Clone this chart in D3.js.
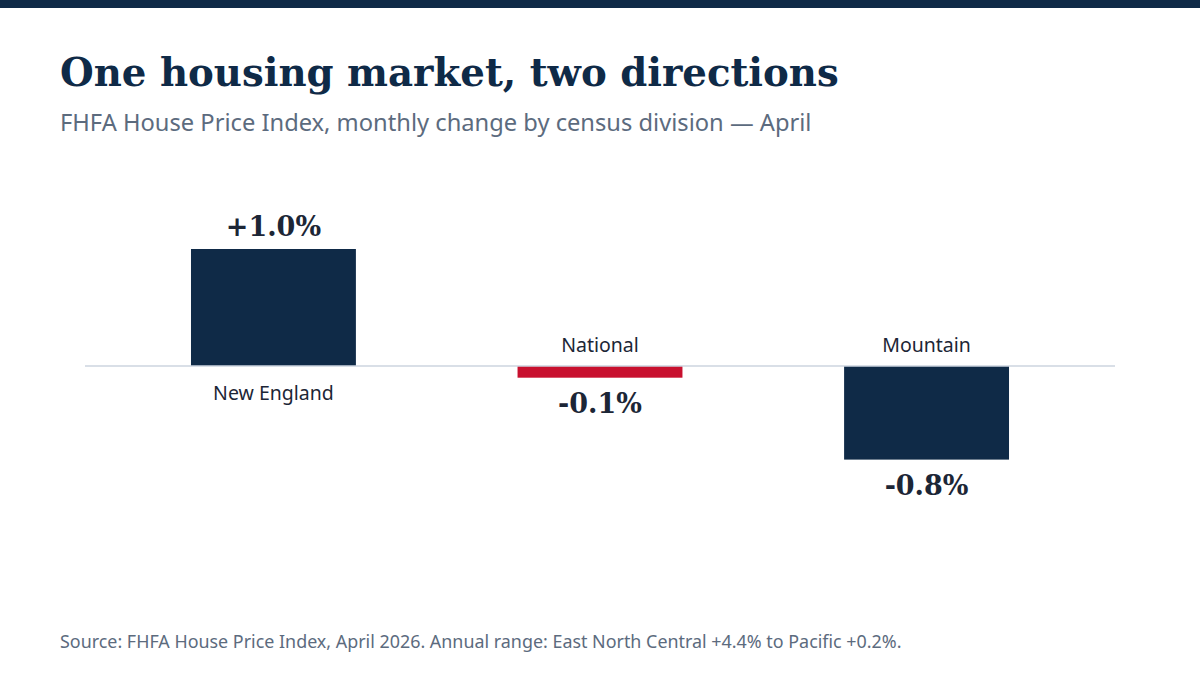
<!DOCTYPE html>
<html><head><meta charset="utf-8">
<script src="https://cdn.jsdelivr.net/npm/d3@7"></script>
<style>body{margin:0;background:#fff}svg{display:block}</style>
</head><body><svg id="c" width="1200" height="675"></svg>
<script>
const categories = ["New England", "National", "Mountain"];
const values = [1.0, -0.1, -0.8];
const valueLabels = ["+1.0%", "-0.1%", "-0.8%"];
const colors = ["#0f2a47", "#c8102e", "#0f2a47"];

const svg = d3.select("#c");
const serif = "Georgia, 'DejaVu Serif', serif";
const sans = "'Noto Sans', 'Open Sans', sans-serif";
svg.append("rect").attr("width",1200).attr("height",8).attr("fill","#0f2a47");
svg.append("text").attr("x",60).attr("y",86).attr("font-family",serif).attr("font-weight","bold")
  .attr("font-size",38.7).attr("fill","#0f2a47").text("One housing market, two directions");
svg.append("text").attr("x",60).attr("y",131).attr("font-family",sans)
  .attr("font-size",23.7).attr("fill","#5c6b7e").text("FHFA House Price Index, monthly change by census division — April");
svg.append("text").attr("x",60).attr("y",648).attr("font-family",sans)
  .attr("font-size",17.9).attr("fill","#5c6b7e").text("Source: FHFA House Price Index, April 2026. Annual range: East North Central +4.4% to Pacific +0.2%.");

const x = d3.scaleBand().domain(categories).range([110,1090]).paddingInner(0.495).paddingOuter(0.248);
const y = d3.scaleLinear().domain([-1,1]).range([483,249]);
const y0 = y(0);

categories.forEach((c,i)=>{
  const v = values[i];
  svg.append("rect").attr("x",x(c)).attr("width",x.bandwidth())
    .attr("y",Math.min(y(v),y0)).attr("height",Math.abs(y(v)-y0)).attr("fill",colors[i]);
  const cx = x(c)+x.bandwidth()/2;
  svg.append("text").attr("x",cx).attr("y", v>=0 ? y(v)-13 : y(v)+35)
    .attr("text-anchor","middle").attr("font-family",serif).attr("font-weight","bold")
    .attr("font-size",27).attr("fill","#1c2636").text(valueLabels[i]);
  svg.append("text").attr("x",cx).attr("y", v>=0 ? y0+34 : y0-14)
    .attr("text-anchor","middle").attr("font-family",sans)
    .attr("font-size",19.5).attr("fill","#1c2636").text(c);
});
svg.append("line").attr("x1",85).attr("x2",1115).attr("y1",y0).attr("y2",y0)
  .attr("stroke","#cdd5df").attr("stroke-width",1.5);
</script></body></html>
